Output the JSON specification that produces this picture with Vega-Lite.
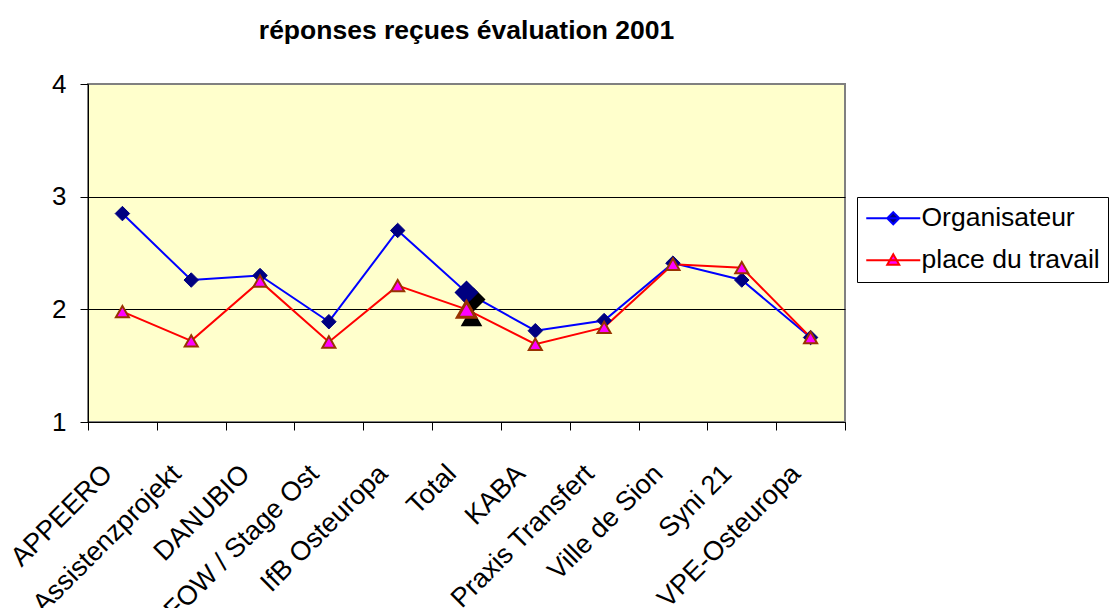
{
  "$schema": "https://vega.github.io/schema/vega-lite/v6.json",
  "width": 757,
  "height": 338,
  "autosize": {"type": "none"},
  "padding": {"left": 88, "top": 84, "right": 266, "bottom": 186},
  "background": "white",
  "title": {"text": "réponses reçues évaluation 2001", "font": "Liberation Sans", "fontSize": 26.5, "fontWeight": "bold", "color": "black", "offset": 27, "anchor": "middle", "frame": "group"},
  "config": {"view": {"fill": "#FFFFCC", "stroke": "#808080", "strokeWidth": 2}, "font": "Liberation Sans"},
  "data": {"values": [
    {"cat": "APPEERO", "series": "Organisateur", "value": 2.85},
    {"cat": "Assistenzprojekt", "series": "Organisateur", "value": 2.26},
    {"cat": "DANUBIO", "series": "Organisateur", "value": 2.30},
    {"cat": "FOW / Stage Ost", "series": "Organisateur", "value": 1.89},
    {"cat": "IfB Osteuropa", "series": "Organisateur", "value": 2.70},
    {"cat": "Total", "series": "Organisateur", "value": 2.15},
    {"cat": "KABA", "series": "Organisateur", "value": 1.81},
    {"cat": "Praxis Transfert", "series": "Organisateur", "value": 1.90},
    {"cat": "Ville de Sion", "series": "Organisateur", "value": 2.41},
    {"cat": "Syni 21", "series": "Organisateur", "value": 2.26},
    {"cat": "VPE-Osteuropa", "series": "Organisateur", "value": 1.75},
    {"cat": "APPEERO", "series": "place du travail", "value": 1.98},
    {"cat": "Assistenzprojekt", "series": "place du travail", "value": 1.72},
    {"cat": "DANUBIO", "series": "place du travail", "value": 2.25},
    {"cat": "FOW / Stage Ost", "series": "place du travail", "value": 1.71},
    {"cat": "IfB Osteuropa", "series": "place du travail", "value": 2.21},
    {"cat": "Total", "series": "place du travail", "value": 2.00},
    {"cat": "KABA", "series": "place du travail", "value": 1.69},
    {"cat": "Praxis Transfert", "series": "place du travail", "value": 1.84},
    {"cat": "Ville de Sion", "series": "place du travail", "value": 2.40},
    {"cat": "Syni 21", "series": "place du travail", "value": 2.37},
    {"cat": "VPE-Osteuropa", "series": "place du travail", "value": 1.75}
  ]},
  "encoding": {
    "x": {"field": "cat", "type": "nominal", "sort": null,
      "scale": {"paddingInner": 0, "paddingOuter": 0},
      "axis": {"title": null, "labelAngle": -45, "labelFontSize": 27, "labelFont": "Liberation Sans", "labelColor": "black", "domainColor": "black", "tickColor": "black", "tickSize": 8, "tickBand": "extent", "labelPadding": 30, "labelOffset": -24, "grid": false, "labelBound": false, "labelOverlap": false, "labelLimit": 400}},
    "y": {"field": "value", "type": "quantitative",
      "scale": {"domain": [1, 4], "nice": false, "zero": false},
      "axis": {"title": null, "values": [1, 2, 3, 4], "labelFontSize": 26, "labelFont": "Liberation Sans", "labelColor": "black", "domainColor": "black", "tickColor": "black", "tickSize": 8, "labelPadding": 14, "grid": true, "gridColor": {"condition": {"test": "datum.value === 4", "value": "#808080"}, "value": "black"}, "gridOpacity": 1}}
  },
  "layer": [
    {"mark": {"type": "line", "strokeWidth": 2},
     "encoding": {"color": {"field": "series", "type": "nominal",
       "scale": {"domain": ["Organisateur", "place du travail"], "range": ["#0000FF", "#FF0000"]},
       "legend": {"orient": "none", "legendX": 769, "legendY": 113, "title": null, "labelFontSize": 26.5, "labelFont": "Liberation Sans", "labelColor": "black", "labelLimit": 400, "strokeColor": "black", "fillColor": "white", "padding": 8, "rowPadding": 15, "symbolSize": 144, "symbolOffset": 15, "labelOffset": 15, "symbolType": "M-4.5,0H4.5M0,-1L1,0L0,1L-1,0Z",
         "encode": {"symbols": {"update": {
           "shape": {"signal": "datum.value === 'Organisateur' ? 'M-4.5,0H4.5M0,-1L1,0L0,1L-1,0Z' : 'M-4.5,0H4.5M0,-1L1,0.75L-1,0.75Z'"},
           "fill": {"signal": "datum.value === 'Organisateur' ? '#000080' : '#FF00FF'"},
           "stroke": {"signal": "datum.value === 'Organisateur' ? '#0000FF' : '#FF0000'"},
           "strokeWidth": {"value": 2},
           "opacity": {"value": 1}}}}}}}},
    {"transform": [{"filter": "datum.series === 'Organisateur' && datum.cat !== 'Total'"}],
     "mark": {"type": "point", "shape": "diamond", "filled": true, "size": 210, "fill": "#000080", "stroke": "#000080", "strokeWidth": 1, "opacity": 1}},
    {"transform": [{"filter": "datum.series === 'Organisateur' && datum.cat === 'Total'"}],
     "mark": {"type": "point", "shape": "diamond", "filled": true, "size": 450, "fill": "black", "stroke": "black", "opacity": 1, "xOffset": 7, "yOffset": 7}},
    {"transform": [{"filter": "datum.series === 'Organisateur' && datum.cat === 'Total'"}],
     "mark": {"type": "point", "shape": "diamond", "filled": true, "size": 450, "fill": "#000080", "stroke": "#000080", "opacity": 1}},
    {"transform": [{"filter": "datum.series === 'place du travail' && datum.cat !== 'Total'"}],
     "mark": {"type": "point", "shape": "triangle-up", "filled": true, "size": 170, "fill": "#FF00FF", "stroke": "#993300", "strokeWidth": 2, "opacity": 1}},
    {"transform": [{"filter": "datum.series === 'place du travail' && datum.cat === 'Total'"}],
     "mark": {"type": "point", "shape": "triangle-up", "filled": true, "size": 330, "fill": "black", "stroke": "black", "strokeWidth": 2, "opacity": 1, "xOffset": 5, "yOffset": 8}},
    {"transform": [{"filter": "datum.series === 'place du travail' && datum.cat === 'Total'"}],
     "mark": {"type": "point", "shape": "triangle-up", "filled": true, "size": 330, "fill": "#FF00FF", "stroke": "#993300", "strokeWidth": 3, "opacity": 1}}
  ]
}
